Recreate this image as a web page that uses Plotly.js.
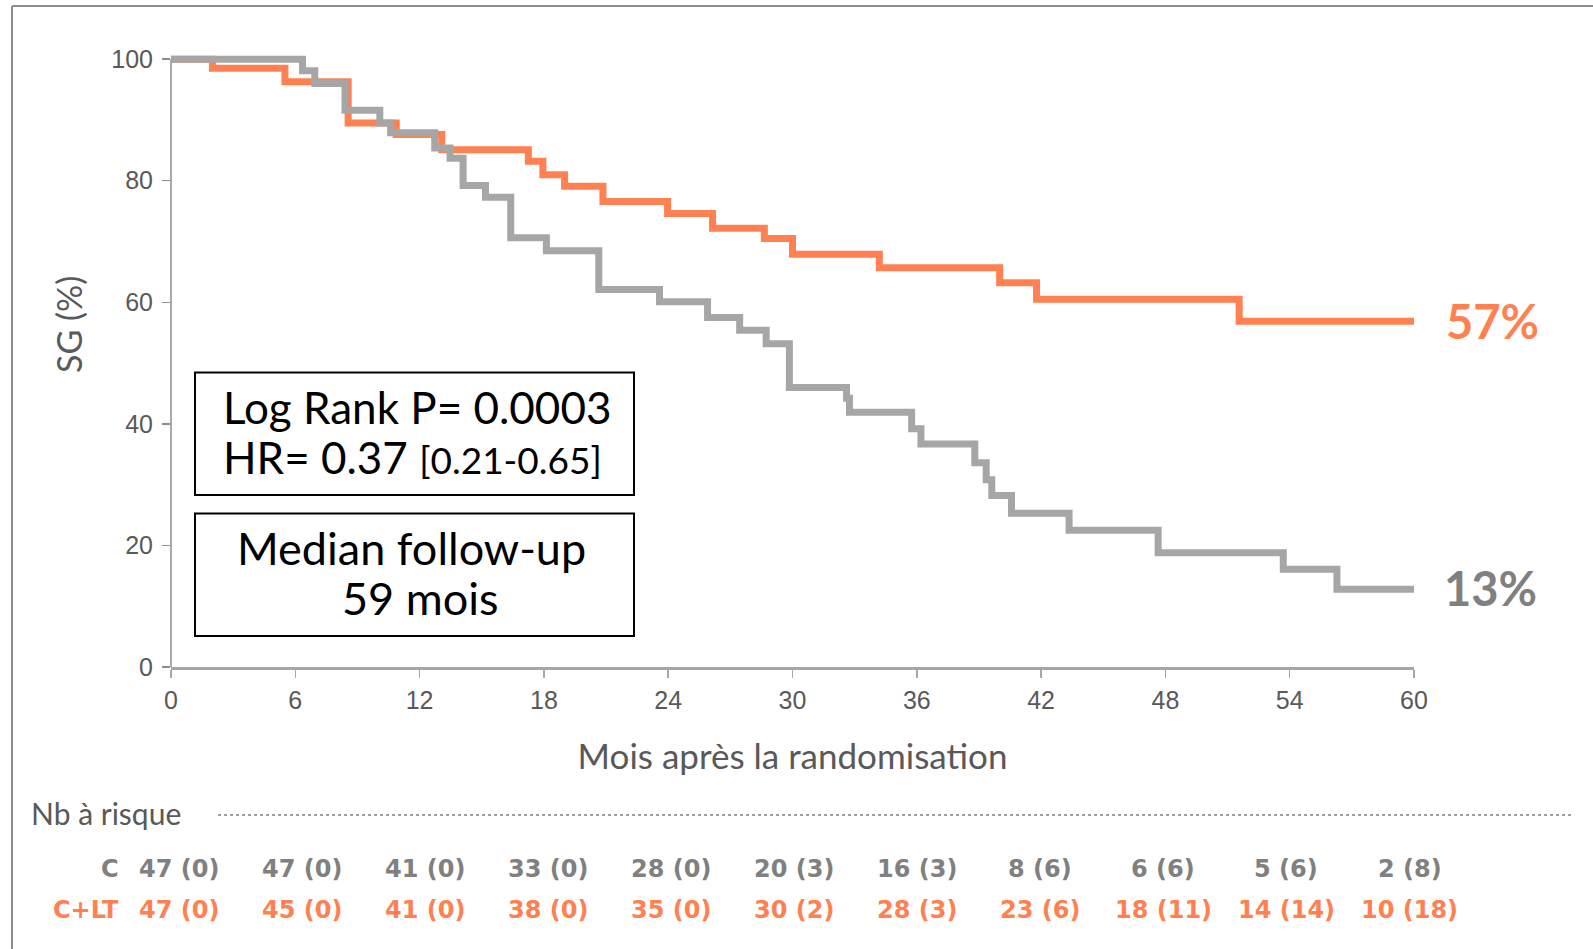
<!DOCTYPE html>
<html>
<head>
<meta charset="utf-8">
<script src="https://cdn.plot.ly/plotly-3.0.1.min.js"></script>
<style>
  html, body { margin: 0; padding: 0; background: #ffffff; }
  #chart { width: 1593px; height: 949px; }
</style>
</head>
<body>
<div id="chart"></div>
<script>
// ---- Data ----
const seriesNames = ["C+LT", "C"];

// C+LT arm: event times (months) and survival (%) after each step
const cltMonths = [0, 2.0, 5.5, 8.55, 10.87, 13.07, 17.25, 17.95, 19.0, 20.85, 23.97, 26.14, 28.64, 30.0, 34.19, 40.0, 41.78, 51.56, 60];
const cltSurvival = [100, 98.5, 96.3, 89.5, 87.6, 85.1, 83.2, 81.0, 79.1, 76.6, 74.6, 72.2, 70.5, 67.9, 65.7, 63.2, 60.5, 56.9, 56.9];

// C arm
const cMonths = [0, 6.35, 6.94, 8.4, 10.08, 10.6, 12.73, 13.47, 14.1, 15.18, 16.4, 18.12, 20.65, 23.58, 25.9, 27.45, 28.73, 29.85, 32.61, 32.75, 35.75, 36.2, 38.8, 39.35, 39.62, 40.57, 43.35, 47.65, 53.69, 56.28, 60];
const cSurvival = [100, 98.1, 96.0, 91.6, 89.5, 87.9, 85.4, 83.7, 79.2, 77.3, 70.6, 68.5, 62.1, 60.1, 57.5, 55.4, 53.2, 46.0, 44.2, 41.9, 39.2, 36.7, 33.6, 30.8, 28.2, 25.3, 22.5, 18.8, 16.1, 12.8, 12.8];

// End-of-follow-up labels
const finalLabels = ["57%", "13%"];
const finalLabelValues = [57, 13];

// Number at risk table
const riskMonths = [0, 6, 12, 18, 24, 30, 36, 42, 48, 54, 60];
const riskC = ["47 (0)", "47 (0)", "41 (0)", "33 (0)", "28 (0)", "20 (3)", "16 (3)", "8 (6)", "6 (6)", "5 (6)", "2 (8)"];
const riskCLT = ["47 (0)", "45 (0)", "41 (0)", "38 (0)", "35 (0)", "30 (2)", "28 (3)", "23 (6)", "18 (11)", "14 (14)", "10 (18)"];

// Axis ticks
const xTicks = [0, 6, 12, 18, 24, 30, 36, 42, 48, 54, 60];
const yTicks = [0, 20, 40, 60, 80, 100];

// Texts
const statsLines = ["Log Rank P= 0.0003", "HR= 0.37 <span style='font-size:37px'>[0.21-0.65]</span>"];
const followLines = ["Median follow-up", "59 mois"];

// ---- Styling ----
const ORANGE = "#FF8050";
const GRAY_LINE = "#A6A6A6";
const GRAY_TEXT = "#808080";
const AXIS_TEXT = "#595959";
const BOX_FONT = "Lato, sans-serif";

const W = 1593, H = 949;
const M = { l: 171, r: 179, t: 47, b: 282 };
const plotW = W - M.l - M.r, plotH = H - M.t - M.b;
const px2paperX = px => (px - M.l) / plotW;
const py2paperY = py => (H - M.b - py) / plotH;

const traces = [
  {
    x: cltMonths, y: cltSurvival, name: seriesNames[0], type: "scatter", mode: "lines",
    line: { shape: "hv", color: ORANGE, width: 7 }, hoverinfo: "x+y"
  },
  {
    x: cMonths, y: cSurvival, name: seriesNames[1], type: "scatter", mode: "lines",
    line: { shape: "hv", color: GRAY_LINE, width: 7 }, hoverinfo: "x+y"
  }
];

const annotations = [];

// Y axis title (placed as annotation to match the reference position)
annotations.push({
  xref: "paper", yref: "paper", x: px2paperX(68), y: py2paperY(325), xanchor: "center", yanchor: "middle",
  showarrow: false, text: "SG (%)", textangle: -90,
  font: { family: BOX_FONT, size: 34, color: AXIS_TEXT }
});

// Final % labels
annotations.push({
  xref: "x", yref: "y", x: 60, y: finalLabelValues[0], xshift: 30,
  xanchor: "left", yanchor: "middle", showarrow: false, text: "<b>" + finalLabels[0] + "</b>",
  font: { family: "Lato, 'Liberation Sans', sans-serif", size: 47, color: ORANGE }
});
annotations.push({
  xref: "x", yref: "y", x: 60, y: finalLabelValues[1], xshift: 28,
  xanchor: "left", yanchor: "middle", showarrow: false, text: "<b>" + finalLabels[1] + "</b>",
  font: { family: "Lato, 'Liberation Sans', sans-serif", size: 47, color: GRAY_TEXT }
});

// Box texts (one annotation per line)
const boxCenterX = px2paperX(414.5);
[[statsLines[0], 407, 44, 2], [statsLines[1], 457, 44, -2], [followLines[0], 548, 45, -3], [followLines[1], 598, 45, 6]]
  .forEach(([t, py, sz, dx]) => {
    annotations.push({
      xref: "paper", yref: "paper", x: boxCenterX, xshift: dx, y: py2paperY(py), xanchor: "center", yanchor: "middle",
      showarrow: false, text: t, font: { family: BOX_FONT, size: sz, color: "#000000" }
    });
  });

// Risk table header
annotations.push({
  xref: "paper", yref: "paper", x: px2paperX(29), y: py2paperY(813), xanchor: "left", yanchor: "middle",
  showarrow: false, text: "Nb à risque",
  font: { family: BOX_FONT, size: 30, color: AXIS_TEXT }
});
// Row labels
annotations.push({
  xref: "paper", yref: "paper", x: px2paperX(121), y: py2paperY(868.6), xanchor: "right", yanchor: "middle",
  showarrow: false, text: "<b>C</b>",
  font: { family: "'DejaVu Sans', sans-serif", size: 24, color: GRAY_TEXT }
});
annotations.push({
  xref: "paper", yref: "paper", x: px2paperX(121), y: py2paperY(910), xanchor: "right", yanchor: "middle",
  showarrow: false, text: "<b>C+LT</b>",
  font: { family: "'DejaVu Sans', sans-serif", size: 24, color: ORANGE }
});
riskMonths.forEach((m, i) => {
  const shift = 7.5 - 1.19 * i;
  annotations.push({
    xref: "x", yref: "paper", x: m, xshift: shift, y: py2paperY(868.6), xanchor: "center", yanchor: "middle",
    showarrow: false, text: "<b>" + riskC[i] + "</b>",
    font: { family: "'DejaVu Sans', sans-serif", size: 24, color: GRAY_TEXT }
  });
  annotations.push({
    xref: "x", yref: "paper", x: m, xshift: shift, y: py2paperY(910), xanchor: "center", yanchor: "middle",
    showarrow: false, text: "<b>" + riskCLT[i] + "</b>",
    font: { family: "'DejaVu Sans', sans-serif", size: 24, color: ORANGE }
  });
});

const boxRect = (top, bottom) => ({
  type: "rect", xref: "paper", yref: "paper",
  x0: px2paperX(195), x1: px2paperX(634), y0: py2paperY(bottom), y1: py2paperY(top),
  fillcolor: "#ffffff", layer: "above", line: { color: "#000000", width: 2 }
});

const shapes = [
  // y axis line from 0 to 100
  { type: "line", xref: "paper", yref: "y", x0: 0, x1: 0, y0: 0, y1: 100, layer: "below",
    line: { color: "#8C8C8C", width: 1.5 } },
  // annotation boxes
  boxRect(372.5, 495), boxRect(513.5, 636),
  // dotted separator
  { type: "line", xref: "paper", yref: "paper", x0: px2paperX(218), x1: px2paperX(1573),
    y0: py2paperY(815), y1: py2paperY(815), line: { color: "#808080", width: 1.5, dash: "dot" } },
  // slide frame (top & left)
  { type: "line", xref: "paper", yref: "paper", x0: px2paperX(12), x1: px2paperX(1593),
    y0: py2paperY(6), y1: py2paperY(6), line: { color: "#8C8C8C", width: 2 } },
  { type: "line", xref: "paper", yref: "paper", x0: px2paperX(12), x1: px2paperX(12),
    y0: py2paperY(6), y1: py2paperY(949), line: { color: "#8C8C8C", width: 2 } }
];

const layout = {
  width: W, height: H,
  margin: M,
  paper_bgcolor: "#ffffff", plot_bgcolor: "#ffffff",
  showlegend: false,
  xaxis: {
    range: [0, 60], tickvals: xTicks, ticktext: xTicks.map(String),
    showgrid: false, zeroline: false, showline: true, linecolor: "#A6A6A6", linewidth: 2.5,
    ticks: "outside", ticklen: 8, tickwidth: 1.5, tickcolor: "#A6A6A6",
    tickfont: { family: "'Liberation Sans', Arial, sans-serif", size: 25, color: AXIS_TEXT },
    ticklabelstandoff: 1,
    title: { text: "Mois après la randomisation", standoff: 32,
      font: { family: BOX_FONT, size: 35, color: AXIS_TEXT } },
    fixedrange: true
  },
  yaxis: {
    range: [0, 102], tickvals: yTicks, ticktext: yTicks.map(String),
    showgrid: false, zeroline: false, showline: false,
    ticks: "outside", ticklen: 8, tickwidth: 1.5, tickcolor: "#8C8C8C",
    tickfont: { family: "'Liberation Sans', Arial, sans-serif", size: 25, color: AXIS_TEXT },
    ticklabelstandoff: 4,
    fixedrange: true
  },
  annotations: annotations,
  shapes: shapes
};

Plotly.newPlot("chart", traces, layout, { displayModeBar: false, staticPlot: true });
</script>
</body>
</html>
